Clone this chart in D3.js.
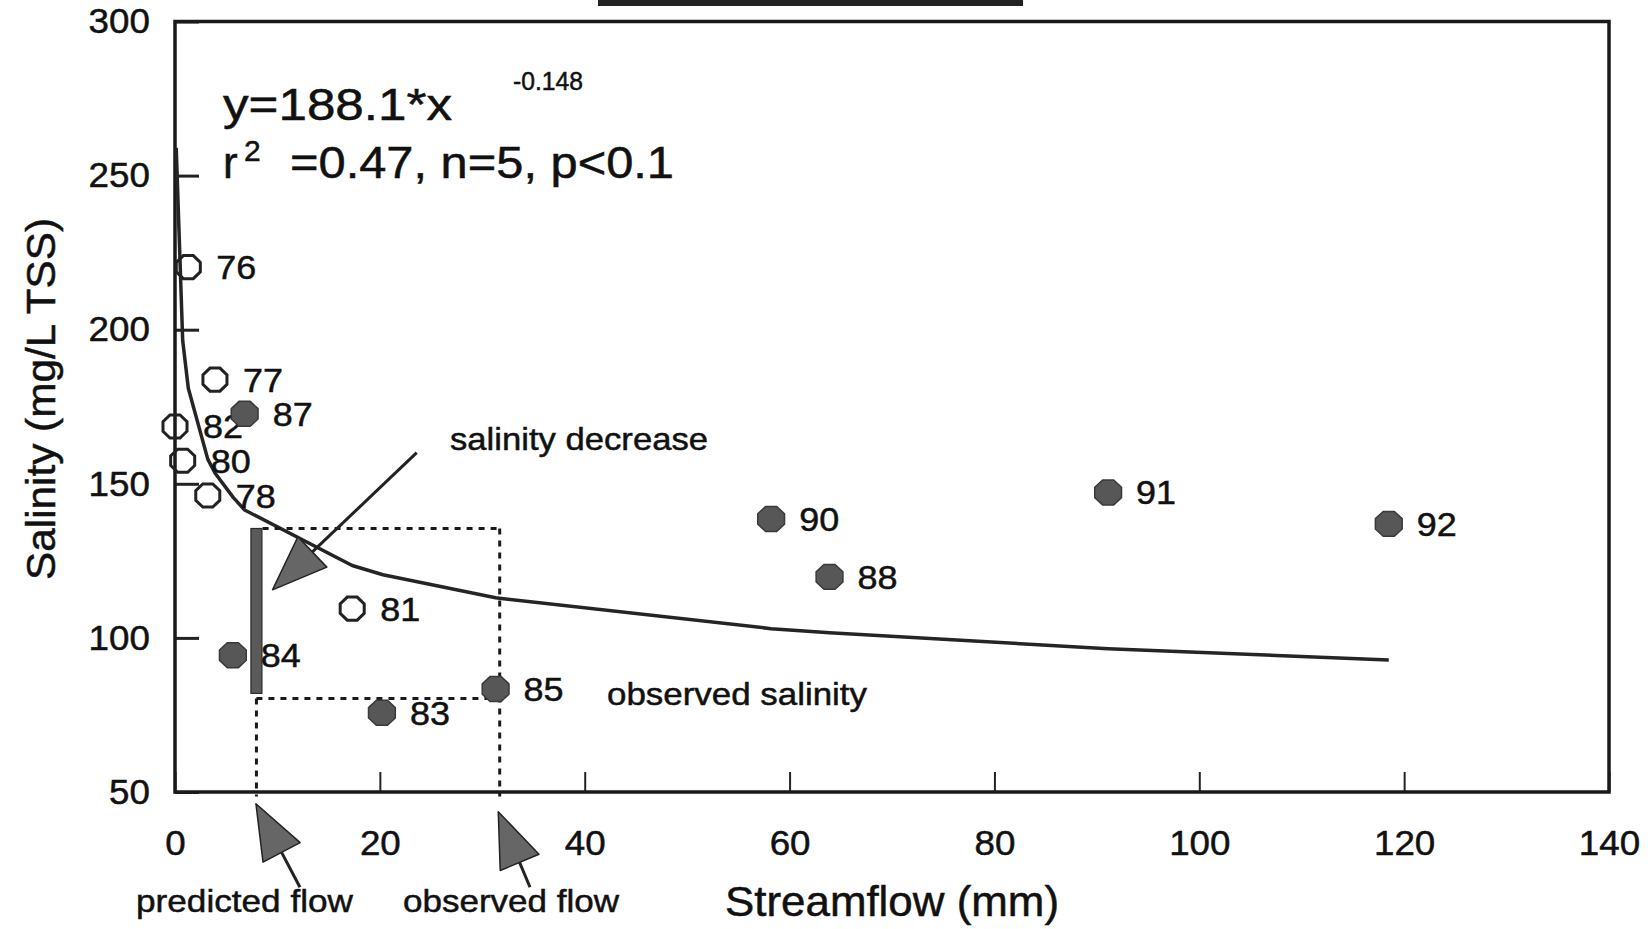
<!DOCTYPE html>
<html>
<head>
<meta charset="utf-8">
<script src="https://cdn.jsdelivr.net/npm/d3@7"></script>
<style>
  body { margin: 0; background: #fff; }
  text { font-family: "Liberation Sans", Arial, Helvetica, sans-serif; fill: #111; stroke: #111; stroke-width: 0.5px; }
</style>
</head>
<body>
<div id="chart"></div>
<script>
// open symbols (earlier years) and filled symbols (later years)
const openYears = ['76', '77', '82', '80', '78', '81'];
const openFlow = [1.3, 3.9, 0.0, 0.75, 3.2, 17.3];
const openSalinity = [220.3, 183.8, 168.6, 157.5, 146.2, 109.5];

const filledYears = ['87', '84', '83', '85', '90', '88', '91', '92'];
const filledFlow = [6.8, 5.65, 20.2, 31.3, 58.2, 63.9, 91.1, 118.5];
const filledSalinity = [172.7, 94.4, 75.7, 83.4, 138.6, 119.8, 147.2, 137.0];

// fitted curve y=188.1*x^-0.148
const curveFlow = [0.12, 0.75, 1.3, 3.2, 3.9, 5.7, 6.8, 17.3, 20.3, 31.3, 58.2, 63.9, 91.1, 118.5];
const curveSalinity = [259, 196.5, 181, 158, 153.5, 145.5, 141.5, 123.5, 120.5, 113, 103, 101.7, 96.5, 92.8];

// predicted / observed flow and salinity (dashed box, bar)
const predictedFlow = 7.95;
const observedFlow = 31.7;
const predictedSalinity = 135.5;
const observedSalinity = 80.3;
const barBottom = 82;

const xTicks = [0, 20, 40, 60, 80, 100, 120, 140];
const yTicks = [50, 100, 150, 200, 250, 300];

const WIDTH = 1652;
const HEIGHT = 929;
const LEFT = 175;
const RIGHT = 1609;
const TOP = 21.5;
const BOTTOM = 792;
const SX = 1.05; // scanned text is a bit wide

const svg = d3.select('#chart').append('svg')
  .attr('width', WIDTH)
  .attr('height', HEIGHT)
  .attr('viewBox', `0 0 ${WIDTH} ${HEIGHT}`);

svg.append('rect').attr('width', WIDTH).attr('height', HEIGHT).attr('fill', '#fff');

const x = d3.scaleLinear().domain([0, 140]).range([LEFT, RIGHT]);
const y = d3.scaleLinear().domain([50, 300]).range([BOTTOM, TOP]);

// cut-off box at the top
svg.append('rect').attr('x', 598).attr('y', 0).attr('width', 425).attr('height', 6).attr('fill', '#222');

// axes
const xAxis = svg.append('g')
  .attr('transform', `translate(0,${BOTTOM})`)
  .call(d3.axisBottom(x).tickValues(xTicks).tickSize(-20).tickPadding(38));
xAxis.select('.domain').remove();
xAxis.attr('font-family', null).attr('font-size', null);
xAxis.selectAll('line').attr('stroke', '#222').attr('stroke-width', 2);
xAxis.selectAll('text').attr('font-size', 35).attr('fill', '#111').attr('transform', `scale(${SX},1)`);

const yAxis = svg.append('g')
  .attr('transform', `translate(${LEFT},0)`)
  .call(d3.axisLeft(y).tickValues(yTicks).tickSize(-24).tickPadding(24));
yAxis.select('.domain').remove();
yAxis.attr('font-family', null).attr('font-size', null);
yAxis.selectAll('line').attr('stroke', '#222').attr('stroke-width', 3);
yAxis.selectAll('text').attr('font-size', 35).attr('fill', '#111').attr('transform', `scale(${SX},1)`);

// frame
svg.append('rect')
  .attr('x', LEFT).attr('y', TOP)
  .attr('width', RIGHT - LEFT).attr('height', BOTTOM - TOP)
  .attr('fill', 'none').attr('stroke', '#1a1a1a').attr('stroke-width', 3.5);

// fitted curve
const line = d3.line().x(d => x(d[0])).y(d => y(d[1]));
svg.append('path')
  .datum(d3.zip(curveFlow, curveSalinity))
  .attr('d', line)
  .attr('fill', 'none').attr('stroke', '#252525').attr('stroke-width', 3.5).attr('stroke-linejoin', 'round');

// dashed box between predicted and observed values
const dashed = [
  [[predictedFlow + 0.6, predictedSalinity], [observedFlow, predictedSalinity]],
  [[observedFlow, predictedSalinity], [observedFlow, 48.5]],
  [[predictedFlow, observedSalinity], [observedFlow - 1.2, observedSalinity]],
  [[predictedFlow, observedSalinity], [predictedFlow, 48.5]]
];
svg.append('g').selectAll('path')
  .data(dashed)
  .join('path')
  .attr('d', line)
  .attr('fill', 'none').attr('stroke', '#1a1a1a').attr('stroke-width', 3).attr('stroke-dasharray', '6,6');

// thick bar at predicted flow
svg.append('rect')
  .attr('x', x(predictedFlow) - 5.5)
  .attr('y', y(predictedSalinity))
  .attr('width', 11)
  .attr('height', y(barBottom) - y(predictedSalinity))
  .attr('fill', '#5a5a5a').attr('stroke', '#2a2a2a').attr('stroke-width', 1.2);

// arrows
const arrows = [
  { tail: [23.6, 160.1], tip: [9.52, 115.6] },
  { tail: [12.2, 19.1], tip: [7.9, 46.2] },
  { tail: [34.66, 19.1], tip: [31.56, 43.6] }
];
arrows.forEach(a => {
  const t0 = [x(a.tail[0]), y(a.tail[1])];
  const t1 = [x(a.tip[0]), y(a.tip[1])];
  const dx = t1[0] - t0[0], dy = t1[1] - t0[1], len = Math.hypot(dx, dy);
  const ux = dx / len, uy = dy / len;
  const headLen = 55, halfW = 21;
  const bx = t1[0] - ux * headLen, by = t1[1] - uy * headLen;
  svg.append('line')
    .attr('x1', t0[0]).attr('y1', t0[1]).attr('x2', bx).attr('y2', by)
    .attr('stroke', '#222').attr('stroke-width', 3);
  svg.append('path')
    .attr('d', `M${t1[0]},${t1[1]}L${bx - uy * halfW},${by + ux * halfW}L${bx + uy * halfW},${by - ux * halfW}Z`)
    .attr('fill', '#666').attr('stroke', '#222').attr('stroke-width', 1.5).attr('stroke-linejoin', 'round');
});

// octagon markers
const octagon = (rx, ry) => {
  const pts = d3.range(8).map(i => {
    const a = Math.PI / 8 + i * Math.PI / 4;
    return [rx * Math.cos(a), ry * Math.sin(a)];
  });
  return 'M' + pts.map(p => p.join(',')).join('L') + 'Z';
};

const drawPoints = (years, flow, sal, filled) => {
  const data = years.map((yr, i) => ({ yr, fx: flow[i], sy: sal[i] }));
  const g = svg.append('g');
  g.selectAll('text')
    .data(data)
    .join('text')
    .attr('transform', d => `translate(${x(d.fx) + 28},${y(d.sy) + 12}) scale(${SX + 0.04},1)`)
    .attr('font-size', 33)
    .text(d => d.yr);
  g.selectAll('path')
    .data(data)
    .join('path')
    .attr('transform', d => `translate(${x(d.fx)},${y(d.sy)})`)
    .attr('d', filled ? octagon(14.5, 13.5) : octagon(13, 12.5))
    .attr('fill', filled ? '#575757' : 'none')
    .attr('stroke', filled ? '#3a3a3a' : '#222')
    .attr('stroke-width', filled ? 1.5 : 3);
};
drawPoints(openYears, openFlow, openSalinity, false);
drawPoints(filledYears, filledFlow, filledSalinity, true);

// equation
svg.append('text').attr('x', 223).attr('y', 120).attr('font-size', 44)
  .attr('textLength', 229).attr('lengthAdjust', 'spacingAndGlyphs').text('y=188.1*x');
svg.append('text').attr('x', 513).attr('y', 90).attr('font-size', 26)
  .attr('textLength', 70).attr('lengthAdjust', 'spacingAndGlyphs').text('-0.148');
svg.append('text').attr('x', 223).attr('y', 178).attr('font-size', 44).text('r');
svg.append('text').attr('x', 244).attr('y', 161).attr('font-size', 30).text('2');
svg.append('text').attr('x', 290).attr('y', 178).attr('font-size', 44)
  .attr('textLength', 384).attr('lengthAdjust', 'spacingAndGlyphs').text('=0.47, n=5, p<0.1');

// annotations
const notes = [
  { t: 'salinity decrease', x: 450, y: 450, len: 258 },
  { t: 'observed salinity', x: 607, y: 705, len: 260 },
  { t: 'predicted flow', x: 136, y: 912, len: 217 },
  { t: 'observed flow', x: 403, y: 912, len: 216 }
];
svg.append('g').selectAll('text')
  .data(notes)
  .join('text')
  .attr('x', d => d.x).attr('y', d => d.y)
  .attr('font-size', 32)
  .attr('textLength', d => d.len).attr('lengthAdjust', 'spacingAndGlyphs')
  .text(d => d.t);

// axis titles
svg.append('text').attr('x', 725).attr('y', 916).attr('font-size', 42)
  .attr('textLength', 334).attr('lengthAdjust', 'spacingAndGlyphs').text('Streamflow (mm)');
svg.append('text')
  .attr('transform', 'translate(55,399) rotate(-90)')
  .attr('text-anchor', 'middle')
  .attr('font-size', 41)
  .attr('textLength', 362).attr('lengthAdjust', 'spacingAndGlyphs')
  .text('Salinity (mg/L TSS)');
</script>
</body>
</html>
